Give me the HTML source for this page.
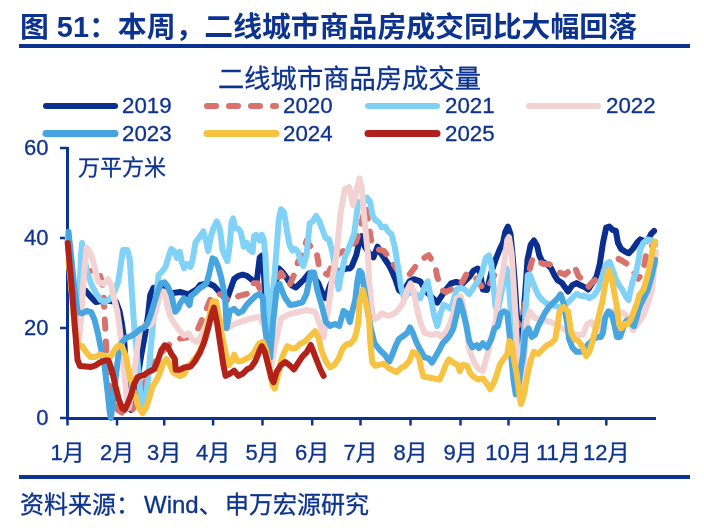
<!DOCTYPE html>
<html><head><meta charset="utf-8">
<style>
html,body{margin:0;padding:0;background:#fff;width:704px;height:530px;overflow:hidden}
svg{display:block}
text{font-family:"Liberation Sans","Noto Sans CJK SC",sans-serif;fill:#0d3390;stroke:#0d3390;stroke-width:0.3px}
text.b{stroke:none}
</style></head><body>
<svg width="704" height="530" viewBox="0 0 704 530">
<text class="b" x="20" y="37" font-size="28.85" font-weight="bold">图 51：本周，二线城市商品房成交同比大幅回落</text>
<rect x="19" y="44" width="671" height="4" fill="#0d3390"/>
<text x="218" y="88" font-size="26.3">二线城市商品房成交量</text>
<!-- legend -->
<g stroke-linecap="round" stroke-width="6" fill="none">
<line x1="46" y1="106" x2="115" y2="106" stroke="#0a2f8f"/>
<line x1="207" y1="106" x2="276" y2="106" stroke="#d9726c" stroke-dasharray="9 13"/>
<line x1="368" y1="106" x2="437" y2="106" stroke="#7fd0f5"/>
<line x1="529" y1="106" x2="598" y2="106" stroke="#f3d2d4"/>
<line x1="46" y1="133.5" x2="115" y2="133.5" stroke="#45a3df" stroke-width="7"/>
<line x1="207" y1="133.5" x2="276" y2="133.5" stroke="#f5c242" stroke-width="7"/>
<line x1="368" y1="133.5" x2="437" y2="133.5" stroke="#b0201c" stroke-width="7"/>
</g>
<g font-size="22.3">
<text x="122" y="113">2019</text>
<text x="283" y="113">2020</text>
<text x="445" y="113">2021</text>
<text x="606" y="113">2022</text>
<text x="122" y="141">2023</text>
<text x="283" y="141">2024</text>
<text x="445" y="141">2025</text>
</g>
<!-- axes -->
<g font-size="22" text-anchor="end">
<text x="48.5" y="155">60</text>
<text x="48.5" y="245">40</text>
<text x="48.5" y="335">20</text>
<text x="48.5" y="425">0</text>
</g>
<text x="78" y="175" font-size="22">万平方米</text>
<g stroke="#0d3390" stroke-width="3" fill="none">
<line x1="67.5" y1="147" x2="67.5" y2="419"/>
<line x1="66" y1="418.5" x2="656" y2="418.5"/>
</g>
<g stroke="#0d3390" stroke-width="2.5">
<line x1="60" y1="148" x2="67" y2="148"/>
<line x1="60" y1="238" x2="67" y2="238"/>
<line x1="60" y1="328" x2="67" y2="328"/>
<line x1="60" y1="418" x2="67" y2="418"/>
<line x1="67.5" y1="418" x2="67.5" y2="425.5"/>
<line x1="117" y1="418" x2="117" y2="425.5"/>
<line x1="164.2" y1="418" x2="164.2" y2="425.5"/>
<line x1="213.1" y1="418" x2="213.1" y2="425.5"/>
<line x1="262.5" y1="418" x2="262.5" y2="425.5"/>
<line x1="312.2" y1="418" x2="312.2" y2="425.5"/>
<line x1="360.5" y1="418" x2="360.5" y2="425.5"/>
<line x1="410.5" y1="418" x2="410.5" y2="425.5"/>
<line x1="460.5" y1="418" x2="460.5" y2="425.5"/>
<line x1="508.5" y1="418" x2="508.5" y2="425.5"/>
<line x1="558.3" y1="418" x2="558.3" y2="425.5"/>
<line x1="606.3" y1="418" x2="606.3" y2="425.5"/>
</g>
<g id="series" fill="none" stroke-linejoin="round" stroke-linecap="round" stroke-width="6">
<polyline stroke="#0a2f8f" points="67.7,240.0 71.0,268.0 73.5,285.0 78.0,289.0 85.5,290.7 91.2,297.4 95.7,302.0 102.0,301.0 109.3,300.8 116.1,302.0 119.5,311.0 121.7,322.4 124.0,338.2 126.0,370.0 128.5,398.0 131.0,410.0 133.5,405.0 135.3,395.0 138.5,372.0 141.7,352.6 145.0,335.0 148.1,315.0 150.2,295.0 153.4,288.0 158.8,286.8 165.1,287.9 171.5,293.2 180.0,292.0 188.6,294.3 197.1,289.0 200.0,285.0 208.5,283.3 214.0,286.0 221.3,293.9 226.6,300.3 234.1,279.0 238.4,275.8 242.6,274.7 246.9,275.8 252.2,280.0 256.5,283.3 259.7,257.7 261.8,255.6 263.9,272.6 266.0,310.0 268.5,326.0 271.0,315.0 274.0,290.0 278.8,268.4 283.1,272.6 287.4,279.0 291.6,285.4 295.9,287.5 300.1,283.3 304.4,279.0 308.7,273.7 312.9,275.8 318.3,283.3 322.5,293.9 325.7,298.2 330.0,285.4 334.2,276.9 340.6,270.5 347.0,268.4 350.0,268.4 352.0,265.9 356.3,255.2 359.5,240.3 361.6,236.1 364.8,246.7 369.1,253.1 373.4,257.4 377.6,246.7 380.8,253.1 385.1,259.5 389.3,265.9 392.5,272.3 395.7,280.0 398.9,290.0 403.0,293.0 406.0,287.0 409.6,281.3 413.8,279.2 420.2,281.3 426.6,292.0 433.0,298.4 437.3,302.6 441.5,296.2 445.8,289.8 451.1,283.4 456.0,282.0 462.8,283.4 469.2,277.0 473.5,270.7 477.8,268.5 480.0,272.0 482.8,289.5 487.0,290.0 491.3,272.4 495.6,259.7 499.8,249.0 503.0,242.6 505.2,232.0 507.9,226.6 510.5,234.1 512.6,255.4 514.7,281.0 516.5,310.0 518.5,335.0 520.5,342.0 523.0,320.0 525.4,290.0 527.5,259.7 530.7,244.7 533.9,240.5 537.1,245.8 539.3,255.4 542.4,261.8 546.7,263.9 551.0,268.2 554.2,274.6 557.4,279.9 562.0,283.0 568.0,291.6 572.3,285.2 576.5,283.1 580.0,285.0 585.1,287.4 588.1,289.5 592.4,283.1 596.6,276.7 599.8,263.9 603.0,242.6 606.2,227.7 609.4,226.6 612.6,229.8 615.8,230.9 617.9,242.6 621.1,249.0 624.3,251.1 628.6,253.3 632.8,249.0 637.1,242.6 640.3,239.4 644.0,241.0 647.8,240.5 651.0,234.1 654.1,230.9"/>
<polyline stroke="#d9726c" stroke-dasharray="9 13" points="82.0,271.0 86.6,272.5 93.0,270.0 99.1,272.5 102.5,283.9 103.6,295.2 104.3,311.0 105.2,326.9 105.9,342.7 107.0,365.0 109.0,385.0 112.0,400.0 118.0,410.0 124.0,414.0 131.0,412.0 136.0,404.0 142.0,390.0 148.0,375.0 155.0,362.0 162.0,352.0 168.0,346.0 171.5,342.0 177.0,339.0 183.0,338.0 189.0,337.0 193.0,335.0 197.0,331.0 201.0,322.0 206.0,310.0 211.0,298.0 216.0,293.0 222.0,295.0 228.0,300.0 234.1,300.3 238.4,296.1 246.9,293.9 253.3,283.3 257.5,283.3 264.0,300.0 268.0,332.0 272.0,318.0 276.0,290.0 278.0,278.0 281.0,272.6 285.2,279.0 289.5,285.4 294.0,275.0 298.0,262.0 302.3,255.6 306.5,240.7 310.8,247.0 316.1,249.2 319.3,268.4 323.6,272.6 327.8,274.7 332.0,265.0 336.4,255.6 342.8,251.3 350.0,246.0 356.0,242.0 361.0,225.0 365.5,206.0 368.5,222.0 371.0,240.0 375.5,248.8 384.0,251.0 390.4,259.5 398.9,272.3 405.3,276.5 409.6,274.4 416.0,265.9 420.2,261.6 424.0,258.0 428.8,255.2 435.1,265.9 437.3,277.0 441.5,289.8 445.8,292.0 450.1,289.8 454.3,287.7 458.6,285.6 462.8,281.3 467.1,272.8 471.4,274.9 476.4,278.8 480.7,285.2 484.9,289.5 489.2,285.2 495.6,272.4 500.0,272.0 504.0,275.0 508.0,280.0 512.0,300.0 516.0,320.0 519.0,325.0 523.0,315.0 527.0,290.0 530.0,268.0 532.9,257.5 538.2,261.8 543.5,263.9 548.8,263.9 554.2,268.2 559.5,272.4 564.8,274.6 570.2,270.3 574.4,266.1 578.5,276.0 583.8,281.0 588.1,287.0 591.5,283.1 596.6,278.8 601.0,274.0 606.0,268.0 610.0,260.0 613.7,257.5 617.9,258.6 622.2,260.7 627.0,264.0 631.8,268.2 635.0,274.6 638.2,278.8 641.4,274.6 644.6,263.9 646.7,251.1 649.0,247.0 655.0,245.0"/>
<polyline stroke="#80d2f7" points="67.7,236.0 71.0,270.0 74.0,310.0 77.0,330.0 79.0,300.0 81.0,255.0 82.1,243.0 86.6,270.0 91.2,283.9 95.7,292.9 100.2,299.7 104.8,302.0 109.3,299.7 113.8,292.9 118.3,281.6 122.9,249.9 127.4,249.9 129.7,259.0 131.9,292.9 134.2,326.9 137.0,355.0 140.0,390.0 142.8,408.0 145.5,400.0 148.0,380.0 151.0,345.0 154.5,310.0 156.6,295.0 158.5,275.0 161.4,272.4 165.6,266.8 168.5,256.8 171.3,249.0 174.1,251.1 177.0,258.0 179.8,251.8 182.0,262.5 184.1,268.2 186.9,263.9 190.5,266.8 192.6,259.7 195.5,242.6 199.7,236.9 203.3,231.3 206.1,241.2 208.2,251.1 211.1,235.5 213.9,227.0 216.8,221.3 219.6,228.4 221.0,236.9 222.4,249.7 225.3,256.8 227.4,261.1 229.5,246.9 231.7,221.3 233.1,218.5 235.2,228.4 238.1,228.4 240.9,232.7 243.8,246.9 246.6,242.6 249.4,249.7 250.4,250.5 252.6,252.0 254.0,236.3 256.1,234.8 259.7,240.5 261.8,234.8 263.9,240.5 265.3,254.7 267.0,290.0 270.0,335.0 273.0,290.0 274.6,275.0 276.7,247.6 278.8,219.2 281.0,209.3 283.8,212.1 285.2,219.2 287.4,233.4 289.5,244.8 292.3,250.5 295.2,249.0 298.0,251.9 301.0,262.0 303.3,265.9 306.5,255.2 309.7,223.3 312.9,221.1 316.1,215.8 319.3,221.1 322.5,229.7 325.7,238.2 328.9,239.3 332.1,251.0 334.2,262.0 336.4,275.0 338.5,289.0 341.0,275.0 344.9,257.7 349.2,247.0 354.2,233.9 356.3,216.9 358.4,202.0 362.0,205.0 367.0,197.7 370.2,202.0 372.3,214.7 375.5,220.1 378.7,222.2 381.9,227.5 385.1,226.5 388.3,231.8 391.5,233.9 394.7,246.7 396.8,259.5 398.9,272.8 401.1,287.7 404.3,298.4 408.0,293.0 412.0,292.0 416.0,294.1 420.2,298.4 424.5,287.7 427.7,281.3 430.9,298.4 434.1,315.4 437.3,326.1 440.5,313.3 443.7,304.7 447.9,306.9 451.1,309.0 456.5,289.8 460.7,287.7 465.0,289.8 469.2,294.1 473.5,287.7 477.8,281.3 482.0,272.8 486.0,257.5 489.2,255.4 491.3,263.9 493.4,285.2 495.6,306.5 497.7,311.3 500.0,300.0 503.0,285.0 506.0,268.0 508.0,272.0 510.0,300.0 513.0,340.0 516.0,365.0 519.0,372.0 522.0,355.0 525.0,320.0 527.7,275.0 529.7,274.6 533.9,285.2 538.2,295.0 542.4,300.0 546.0,303.0 551.0,305.0 556.0,306.0 562.0,308.0 568.0,302.3 572.3,298.0 576.5,293.8 580.8,295.9 585.1,295.9 589.3,298.0 593.6,295.9 597.9,289.5 602.1,276.7 606.4,263.9 609.6,261.8 612.8,270.3 615.8,278.8 619.0,285.2 622.2,289.5 625.4,295.9 628.6,300.1 630.7,289.5 632.8,281.0 636.0,272.4 638.2,261.8 640.3,249.0 643.5,242.6 647.8,239.4 652.0,240.5 655.2,244.7"/>
<polyline stroke="#f3d2d4" points="67.7,242.0 71.0,280.0 74.0,320.0 77.0,345.0 79.0,340.0 81.0,320.0 83.5,280.0 86.6,247.6 91.2,254.4 94.0,265.0 98.0,281.6 103.6,283.9 108.1,279.3 111.5,286.1 113.8,297.4 117.2,311.0 119.5,326.9 121.7,345.0 124.0,370.0 126.5,395.0 128.5,408.0 131.0,398.0 134.0,375.0 137.0,350.0 140.0,330.0 144.0,325.0 149.0,326.0 153.0,322.0 156.0,310.0 159.0,298.0 162.0,291.0 165.0,292.0 167.3,306.0 169.4,314.3 173.7,322.8 180.1,331.3 184.3,335.6 188.6,333.4 192.9,339.8 197.1,342.0 201.4,335.6 205.6,327.0 209.9,320.7 214.2,310.0 218.0,318.0 222.0,322.0 227.7,328.0 232.0,325.0 242.6,321.0 253.3,318.0 259.7,317.0 264.0,326.0 268.0,345.0 271.4,366.0 275.0,345.0 281.0,318.4 289.5,314.1 298.0,312.0 306.5,309.8 315.1,312.0 319.3,322.6 323.6,337.5 328.0,310.0 332.0,280.0 336.4,255.0 340.6,212.6 345.0,189.0 349.2,187.0 353.1,205.2 356.3,191.3 359.5,178.5 361.6,187.0 363.8,212.6 365.9,233.9 368.0,255.2 369.1,281.3 371.2,302.6 373.4,319.7 377.6,317.5 381.9,313.3 386.1,315.4 390.4,315.4 394.7,313.3 398.9,309.0 403.2,302.6 407.4,289.8 410.6,283.4 413.8,292.0 417.0,309.0 420.2,322.0 424.5,332.8 430.9,334.9 437.3,333.5 441.5,336.7 445.8,332.4 450.1,323.9 453.3,313.3 456.5,298.4 460.7,296.2 463.9,309.0 467.1,330.3 469.2,349.5 472.4,358.0 474.3,362.4 478.5,368.8 482.8,371.0 487.0,356.1 491.3,339.0 495.6,322.0 498.0,300.0 500.5,285.0 504.1,263.9 507.3,240.0 509.0,237.0 511.6,253.3 513.7,285.2 515.8,320.0 517.5,360.0 520.0,400.0 522.5,385.0 525.0,345.0 527.0,320.0 529.7,311.3 535.0,318.0 542.4,319.8 551.0,322.0 558.0,326.0 565.0,330.0 572.0,333.0 578.0,335.0 582.9,334.7 587.2,324.1 591.5,322.0 595.7,328.4 598.7,330.5 603.0,322.0 607.0,314.0 611.5,311.3 617.9,311.3 624.3,313.4 629.6,322.0 632.8,330.5 636.0,326.2 643.5,315.6 646.7,307.0 649.9,296.4 652.0,290.0 654.1,270.0 656.0,252.0"/>
<polyline stroke="#47a5e0" points="68.5,231.8 71.0,255.0 74.0,285.0 77.6,312.0 82.1,313.3 86.6,311.0 91.2,312.2 94.6,320.0 98.0,333.7 100.2,345.0 104.4,365.0 107.6,392.0 109.7,412.0 110.8,418.0 113.0,402.0 116.0,375.0 119.0,350.0 121.5,343.0 126.0,338.0 131.0,336.0 135.3,333.4 139.5,330.0 139.6,329.4 144.1,327.7 147.5,323.2 150.9,314.1 154.3,302.7 157.7,291.4 161.1,283.4 164.5,282.3 168.0,286.8 171.4,294.8 173.6,305.0 175.3,311.8 178.2,308.4 180.5,302.7 183.9,298.2 187.3,301.6 189.5,305.0 191.0,296.0 195.5,292.5 199.7,288.2 204.0,285.4 206.8,282.6 209.7,271.2 212.5,258.4 215.3,259.8 218.2,266.9 221.0,276.9 223.2,286.8 225.3,301.0 226.6,328.0 229.8,311.0 234.1,308.8 238.4,313.1 242.6,311.0 246.9,304.6 251.1,300.3 255.4,296.1 259.7,293.9 262.9,298.2 263.5,312.8 267.5,347.2 270.1,357.7 272.7,326.0 276.7,289.0 279.3,283.8 284.6,297.0 289.9,304.9 293.8,304.6 298.0,303.5 302.3,302.4 306.5,293.9 310.8,272.6 314.0,272.6 317.2,289.7 321.5,304.6 325.7,321.6 330.0,325.9 335.0,324.0 339.3,326.0 343.5,311.0 346.7,313.0 349.9,322.0 352.0,312.0 355.2,300.0 357.4,281.3 359.5,270.7 361.6,272.8 364.8,292.0 368.0,313.3 371.2,330.3 374.4,343.0 379.7,349.8 385.1,355.2 389.3,361.6 392.5,354.1 395.7,345.6 398.9,339.2 403.2,336.0 407.4,332.8 410.0,327.5 412.8,332.8 416.0,341.3 420.2,349.8 424.5,357.3 428.8,358.4 432.0,362.6 435.1,357.3 439.4,349.8 442.6,343.4 445.8,340.2 450.1,334.9 453.3,328.5 456.5,315.0 459.7,300.5 462.8,311.1 466.0,323.9 469.2,341.0 472.4,347.4 476.7,345.2 479.0,348.0 482.8,343.3 487.0,347.5 491.3,339.0 494.5,328.4 497.7,326.2 500.9,313.4 504.1,311.3 507.3,313.4 509.4,332.6 511.6,360.3 513.7,381.6 515.8,394.4 518.5,385.0 521.0,368.0 523.3,353.9 525.4,332.6 528.6,328.4 531.8,336.9 535.0,334.7 538.2,326.2 541.4,319.8 544.6,313.4 548.8,307.0 553.1,302.8 557.4,298.5 560.6,294.3 563.8,304.0 567.0,322.0 569.1,339.0 572.3,347.5 576.5,351.8 580.8,351.8 585.1,347.5 589.3,343.3 593.6,339.0 597.9,336.9 601.0,336.9 603.0,332.6 605.1,317.7 608.3,311.3 611.5,313.4 614.7,326.2 616.9,336.9 620.1,336.9 622.2,330.5 625.4,322.0 628.6,319.8 631.8,324.1 633.9,326.2 636.0,319.8 638.2,311.3 641.4,302.8 644.6,296.4 647.8,289.5 652.0,274.6 655.2,259.7"/>
<polyline stroke="#f6c343" points="68.5,260.0 72.0,295.0 75.0,330.0 78.0,344.0 81.0,346.0 82.0,346.0 86.0,352.0 90.6,357.0 95.0,357.0 100.0,354.6 103.5,355.5 106.9,358.9 111.0,356.0 115.4,348.7 118.8,345.3 122.2,347.0 125.6,355.5 129.0,372.4 132.4,386.0 135.7,398.0 139.1,408.0 142.5,413.2 145.9,408.0 149.3,398.0 152.7,386.0 156.1,381.0 159.5,374.0 162.9,364.0 166.3,358.9 169.7,364.0 173.1,372.4 175.8,374.0 180.0,376.0 184.3,374.0 188.0,366.0 192.0,362.0 197.0,356.0 202.0,346.0 206.0,334.0 208.5,320.0 212.8,301.3 216.0,301.3 219.2,318.4 222.4,337.5 225.6,352.4 228.8,365.2 232.0,361.0 234.1,354.6 237.3,361.0 241.6,361.0 245.8,358.8 250.1,356.7 254.3,352.4 258.6,343.9 262.9,341.8 266.1,350.3 269.3,367.4 272.4,384.4 274.6,388.7 277.8,375.9 281.0,361.0 284.2,352.4 287.4,346.1 291.6,348.2 295.9,348.2 300.1,343.9 304.4,341.8 308.7,337.5 312.9,333.3 315.1,331.1 318.3,337.5 321.5,350.3 325.7,361.0 330.0,367.4 334.2,365.2 338.5,358.8 342.8,348.2 347.0,343.9 350.0,343.9 354.2,339.2 356.3,332.8 358.4,322.1 359.5,302.6 362.7,289.8 365.9,302.6 369.1,319.7 370.2,341.3 372.3,362.6 375.5,365.8 379.7,364.7 384.0,363.7 388.3,367.9 392.5,370.1 396.8,372.2 401.1,367.9 405.3,365.8 409.6,360.5 412.8,352.0 416.0,353.0 419.2,358.4 421.3,369.0 423.4,376.5 428.8,377.5 435.1,378.6 439.4,379.7 442.6,373.3 445.8,364.7 449.0,359.4 453.3,362.6 457.5,364.7 459.7,371.1 462.8,364.7 467.1,365.8 470.3,373.3 474.3,377.4 478.5,379.5 482.8,378.4 487.0,383.8 490.2,389.1 493.4,383.8 496.6,375.2 499.8,364.6 504.1,358.2 507.3,353.9 509.4,341.1 511.6,343.3 513.7,358.2 516.9,375.2 519.0,392.0 521.0,404.0 523.0,398.0 524.3,392.3 527.5,375.2 530.7,360.3 533.9,351.8 538.2,353.9 542.4,349.7 546.7,345.4 551.0,343.3 555.2,339.0 557.4,326.2 559.5,311.3 563.8,307.0 568.0,311.3 571.2,332.6 574.4,339.0 578.7,341.1 582.9,347.5 586.1,356.1 589.3,351.8 592.5,341.1 595.7,328.4 598.9,315.6 602.1,302.8 605.1,285.0 608.3,270.3 611.5,276.7 613.7,289.5 616.9,307.0 619.0,324.1 621.1,328.4 624.3,324.1 627.5,324.1 630.7,319.8 633.9,311.3 637.1,302.8 639.2,295.0 643.5,289.5 647.8,274.6 651.0,259.7 653.1,246.9 655.2,241.6"/>
<polyline stroke="#b22218" points="67.7,243.0 72.0,290.0 75.5,335.0 77.5,360.0 80.0,366.0 86.3,366.5 90.6,367.0 95.0,365.7 100.1,362.3 105.2,360.6 108.6,360.6 112.0,370.7 115.4,386.0 118.8,399.6 122.2,408.0 124.7,409.8 127.3,404.7 130.7,396.2 134.0,384.3 137.4,377.5 140.8,375.8 144.2,375.0 147.6,372.4 151.0,370.7 154.4,369.0 157.8,360.6 161.2,350.4 164.6,345.3 168.0,347.0 171.4,353.8 174.8,358.9 175.8,369.7 180.1,369.7 184.3,367.5 190.7,366.5 195.0,361.1 200.0,352.4 204.3,341.8 208.5,326.9 211.7,314.1 213.9,307.7 217.0,322.6 220.2,343.9 223.4,365.2 225.6,375.9 229.8,373.8 234.1,370.6 238.4,375.9 242.6,373.8 246.9,369.5 251.1,367.4 255.4,361.0 259.7,350.3 261.8,346.1 265.0,352.4 268.2,365.2 271.4,378.0 273.5,382.3 276.7,371.6 281.0,365.2 285.2,362.0 289.5,365.2 293.8,369.5 298.0,363.1 302.3,356.7 306.5,352.4 310.8,345.0 312.9,350.3 316.1,358.8 320.4,369.5 323.6,375.9"/>
</g>
<g font-size="22" text-anchor="middle">
<text x="67.5" y="459.5">1月</text>
<text x="117" y="459.5">2月</text>
<text x="164.2" y="459.5">3月</text>
<text x="213.1" y="459.5">4月</text>
<text x="262.5" y="459.5">5月</text>
<text x="312.2" y="459.5">6月</text>
<text x="360.5" y="459.5">7月</text>
<text x="410.5" y="459.5">8月</text>
<text x="460.5" y="459.5">9月</text>
<text x="508.5" y="459.5">10月</text>
<text x="558.3" y="459.5">11月</text>
<text x="606.3" y="459.5">12月</text>
</g>
<rect x="19" y="475" width="671" height="4" fill="#0d3390"/>
<text y="513" font-size="24"><tspan x="20">资料来源：</tspan><tspan x="144">Wind、</tspan><tspan x="225">申万宏源研究</tspan></text>
</svg>
</body></html>
